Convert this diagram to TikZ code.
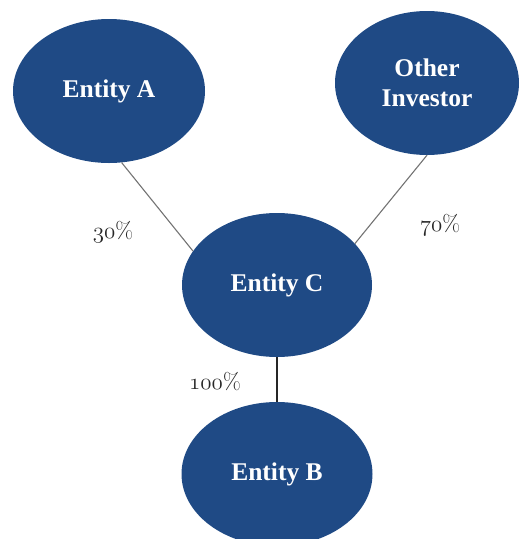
\documentclass[tikz,border=0pt]{standalone}
\usepackage{fix-cm}
\usepackage{fontspec}
\newfontfamily\entfont{Liberation Serif}
\newcommand\oldnum[1]{{\fontencoding{OML}\fontfamily{cmm}\fontseries{m}\fontshape{it}\selectfont #1}}
\usepackage{tikz}
\usetikzlibrary{shapes.geometric}

\definecolor{entblue}{RGB}{31,74,133}

\begin{document}
\begin{tikzpicture}[x=1pt, y=-1pt,
  entity/.style={ellipse, fill=entblue, inner sep=0pt, minimum height=144pt,
    text=white, align=center, font=\entfont\fontsize{25.5}{30}\selectfont\bfseries},
  share/.style={font=\fontsize{23}{25}\selectfont, text=black!85},
  link/.style={draw=black!55, line width=1.1pt}]
\useasboundingbox (0,0) rectangle (520,539);
\clip (0,0) rectangle (520,539);

% holding structure
\node[entity, minimum width=192pt] (entA) at (109,91) {Entity A};
\node[entity, minimum width=184pt] (other) at (427,83) {Other\\Investor};
\node[entity, minimum width=190pt] (entC) at (277,285) {Entity C};
\node[entity, minimum width=191pt] (entB) at (277,474) {Entity B};

\draw[link] (entA.-80) -- (entC.158);
\draw[link] (other.south) -- (entC.28);
\draw[link, draw=black!85] (entC.south) -- (entB.north);

% ownership shares
\node[share] (p30) at (113,232) {\oldnum{30}\%};
\node[share] (p70) at (440,225) {\oldnum{70}\%};
\node[share] (p100) at (215,382) {\oldnum{100}\%};
\end{tikzpicture}
\end{document}
